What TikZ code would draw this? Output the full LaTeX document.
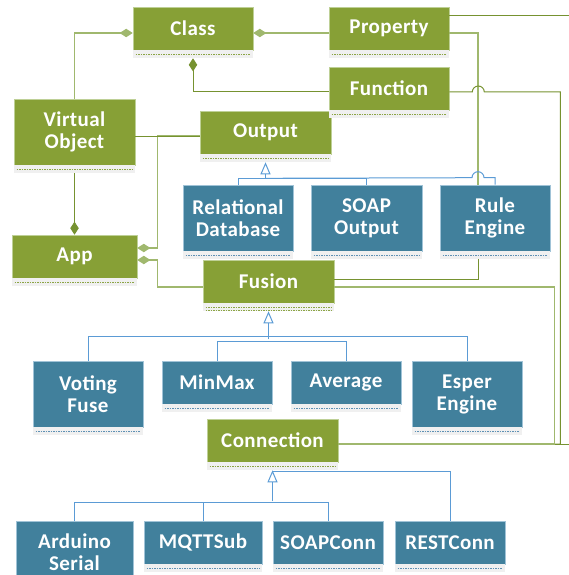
\documentclass[tikz,border=0pt]{standalone}
\usepackage{fontspec}
\setmainfont{Carlito}
\usetikzlibrary{arrows.meta}

\definecolor{clsgreen}{RGB}{135,160,54}
\definecolor{clsblue}{RGB}{65,128,156}
\definecolor{edgegreen}{RGB}{190,208,150}
\definecolor{edgeblue}{RGB}{160,195,215}
\definecolor{stripgray}{RGB}{240,240,240}
\definecolor{dashgreen}{RGB}{140,165,70}
\definecolor{dashblue}{RGB}{95,145,180}
\definecolor{linedark}{RGB}{118,146,48}
\definecolor{linelight}{RGB}{160,184,110}
\definecolor{genblue}{RGB}{91,155,213}

\begin{document}
\begin{tikzpicture}[x=1pt, y=-1pt,
        greenbox/.style={draw=edgegreen, fill=clsgreen, rectangle, minimum width=120pt, minimum height=43pt, align=center, text=white, font=\fontsize{21}{22}\selectfont\bfseries\addfontfeatures{LetterSpace=2}, inner sep=0pt, line width=0.6pt},
        bluebox/.style={greenbox, draw=edgeblue, fill=clsblue, minimum width=110pt},
        tallbox/.style={minimum height=66pt},
        assoc/.style={linedark, line width=1pt},
        assoclight/.style={linelight, line width=1.2pt},
        comptip/.style={arrows={Diamond[length=13pt,width=8.5pt]-}},
        genline/.style={genblue, line width=1pt},
        gentip/.style={arrows={-Triangle[open,length=12pt,width=10pt]}}
    ]
    \useasboundingbox (0,0) rectangle (568,575);

    % --- ROW 1: core classes ---
    \node[greenbox] (cls) at (193,28.5) {Class};
    \node[greenbox] (prop) at (389,28.5) {Property};
    \node[greenbox] (func) at (389,88.5) {Function};

    % --- ROW 2: virtual object and output ---
    \node[greenbox, tallbox, minimum width=121pt] (vobj) at (74.5,132) {Virtual\\Object};
    \node[greenbox, minimum width=131pt] (outp) at (265.5,132.5) {Output};

    % --- ROW 3: outputs ---
    \node[bluebox, tallbox] (reldb) at (238,218) {Relational\\Database};
    \node[bluebox, tallbox, minimum width=111pt] (soapout) at (366.5,218) {SOAP\\Output};
    \node[bluebox, tallbox] (rule) at (495,218) {Rule\\Engine};

    % --- ROW 4: app and fusion ---
    \node[greenbox, minimum width=125pt] (app) at (74.5,256.5) {App};
    \node[greenbox, minimum width=131pt] (fus) at (268.5,281.5) {Fusion};

    % --- ROW 5: fusion types ---
    \node[bluebox, tallbox] (vote) at (88,394) {Voting\\Fuse};
    \node[bluebox] (minmax) at (217,382.5) {MinMax};
    \node[bluebox] (avg) at (346,382.5) {Average};
    \node[bluebox, tallbox] (esper) at (467,394) {Esper\\Engine};

    % --- ROW 6: connection ---
    \node[greenbox, minimum width=131pt] (conn) at (272.5,440.5) {Connection};

    % --- ROW 7: connection types ---
    \node[bluebox, minimum height=62pt, minimum width=117pt] (ard) at (74.5,552) {Arduino\\Serial};
    \node[bluebox, minimum width=118pt] (mqtt) at (203,542.5) {MQTTSub};
    \node[bluebox] (soapc) at (328,542.5) {SOAPConn};
    \node[bluebox] (rest) at (450,542.5) {RESTConn};

    % --- attribute strips ---
    \foreach \n/\c in {cls/dashgreen, prop/dashgreen, func/dashgreen, vobj/dashgreen, outp/dashgreen,
                       app/dashgreen, fus/dashgreen, conn/dashgreen, reldb/dashblue, soapout/dashblue,
                       rule/dashblue, vote/dashblue, minmax/dashblue, avg/dashblue, esper/dashblue,
                       ard/dashblue, mqtt/dashblue, soapc/dashblue, rest/dashblue} {
        \fill[stripgray] (\n.south west) rectangle ([yshift=-8pt]\n.south east);
        \draw[\c, line width=0.6pt, dash pattern=on 1.5pt off 1pt] ([xshift=3pt,yshift=-4pt]\n.south west) -- ([xshift=-3pt,yshift=-4pt]\n.south east);
        \coordinate (\n-b) at ([yshift=-8pt]\n.south);
    }
    \draw[dashgreen, line width=0.6pt, dash pattern=on 1.5pt off 1pt] ([xshift=3pt,yshift=-6.5pt]fus.south west) -- ([xshift=-3pt,yshift=-6.5pt]fus.south east);

    % --- COMPOSITIONS ---
    \draw[assoclight, comptip] ([yshift=-4.5pt]cls.west) -| (vobj.north);
    \draw[assoclight, comptip] ([yshift=-4.5pt]cls.east) -- ([yshift=-4.5pt]prop.west);
    \draw[assoc, comptip] (cls-b) |- ([yshift=-3.5pt]func.west);
    \draw[assoc, comptip] (app.north) -- (vobj-b);
    \draw[assoclight, comptip] ([yshift=8.5pt]app.east) -- ++(20,0) |- ([yshift=-3.5pt]outp.west);
    \draw[assoclight, comptip] ([yshift=-3.5pt]app.east) -- ++(20,0) |- ([yshift=-5.5pt]fus.west);

    % --- ASSOCIATIONS ---
    \draw[assoc] ([yshift=-4pt]vobj.east) -- ([yshift=-4pt]vobj.east -| outp.west);
    \draw[assoclight] ([yshift=-4.5pt]prop.east) -| ([xshift=-17pt]rule.north);
    \draw[assoc] ([xshift=-17pt]rule-b) |- ([yshift=2.5pt]fus.east);
    \draw[assoc] ([yshift=12.5pt]prop.east) -- ++(123,0) |- ([yshift=-3.5pt]conn.east);
    \draw[assoc] ([yshift=-3.5pt]func.east) -- ++(23,0) arc[start angle=180, end angle=0, radius=6pt] -- ++(76,0) |- ([yshift=-3.5pt]conn.east);
    \draw[assoclight] ([yshift=-5.5pt]fus.east) -- ++(220,0) |- ([yshift=-3.5pt]conn.east);

    % --- GENERALIZATIONS: Output ---
    \coordinate (outjoin) at ([yshift=-16pt]outp-b);
    \draw[genline, gentip] (reldb.north) |- (outjoin) -- (outp-b);
    \draw[genline] (soapout.north) |- (outjoin);
    \draw[genline] (rule.north) -- ++(0,-7) -- ++(-11,0) arc[start angle=0, end angle=180, radius=6pt] -- (outjoin);

    % --- GENERALIZATIONS: Fusion ---
    \coordinate (fusjoin) at ([yshift=-28pt]fus-b);
    \draw[genline, gentip] (fusjoin) -- (fus-b);
    \draw[genline] (minmax.north) -- ++(0,-19) -| (avg.north);
    \draw[genline] (vote.north) -- ++(0,-24) -| (esper.north);

    % --- GENERALIZATIONS: Connection ---
    \coordinate (connjoin) at ([yshift=-31pt]conn-b);
    \draw[genline, gentip] (connjoin) -- (conn-b);
    \draw[genline] (ard.north) -- ++(0,-18) -| (soapc.north);
    \draw[genline] (mqtt.north) -- ++(0,-18);
    \draw[genline] (rest.north) |- ([yshift=-1.5pt]conn-b);

\end{tikzpicture}
\end{document}
